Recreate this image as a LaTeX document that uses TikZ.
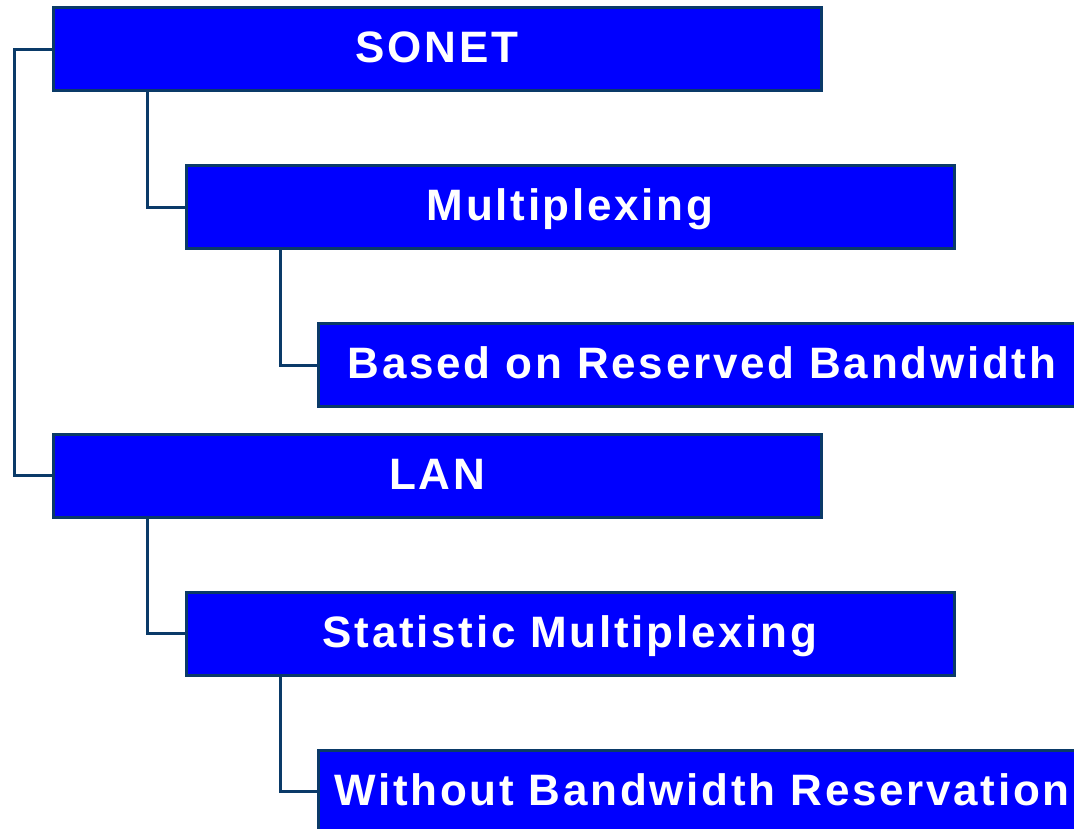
\documentclass[tikz,border=0pt]{standalone}
\usepackage{fontspec}
\setmainfont{Liberation Sans}
\newfontfamily\boxfont[LetterSpace=6.2]{Liberation Sans}
\definecolor{navy}{HTML}{0A3A68}
\definecolor{boxblue}{HTML}{0000FF}
\begin{document}
\begin{tikzpicture}[x=1pt,y=-1pt,
  item/.style={draw=navy, line width=3pt, fill=boxblue, text=white,
    minimum width=768pt, minimum height=83pt, inner sep=0pt,
    text height=27pt, text depth=0pt,
    font=\boxfont\fontsize{44}{50}\selectfont\bfseries},
  link/.style={draw=navy, line width=3pt}]
\useasboundingbox (0,0) rectangle (1074,829);
\clip (0,0) rectangle (1074,829);

% outline levels
\node[item] (sonet) at (437,49.5)  {SONET};
\node[item] (mux)   at (570,207.5) {Multiplexing};
\node[item] (resv)  at (702,365)   {Based on Reserved Bandwidth};
\node[item] (lan)   at (437,475.5) {LAN};
\node[item] (stat)  at (570,633.5) {Statistic Multiplexing};
\node[item] (nores) at (702,791.5) {Without Bandwidth Reservation};

% tree connectors
\draw[link] (sonet.west) -- ++(-37,0) |- (lan.west);
\draw[link] ([xshift=96pt]sonet.south west) |- (mux.west);
\draw[link] ([xshift=96pt]mux.south west) |- (resv.west);
\draw[link] ([xshift=96pt]lan.south west) |- (stat.west);
\draw[link] ([xshift=96pt]stat.south west) |- (nores.west);
\end{tikzpicture}
\end{document}
